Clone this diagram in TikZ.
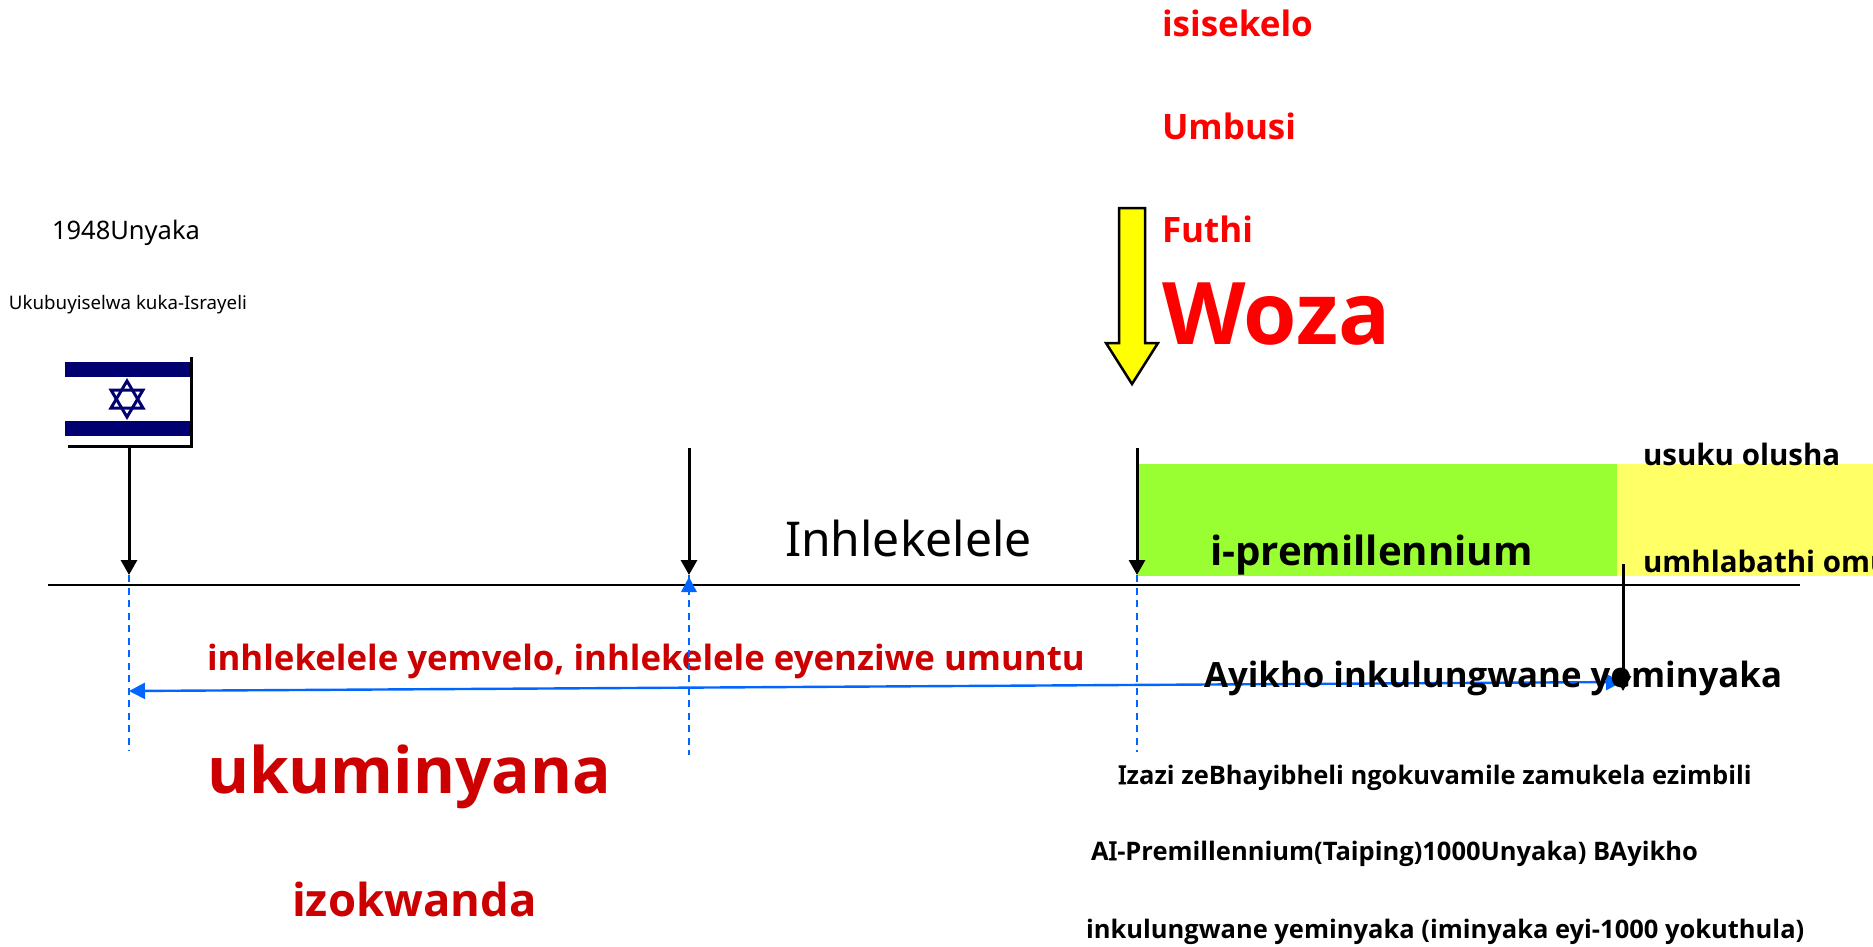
\documentclass[tikz,border=0pt]{standalone}
\usepackage{fontspec}
\setmainfont{Noto Sans}
\newfontfamily\boldfam{Open Sans}
\newfontfamily\serfam{Noto Sans}[FakeBold=3.5]
\newcommand{\serI}{{\serfam\mdseries I}}
\usetikzlibrary{arrows.meta}
\definecolor{redtxt}{HTML}{FF0000}
\definecolor{darkred}{HTML}{CC0000}
\definecolor{bluel}{HTML}{0066FF}
\definecolor{navyf}{HTML}{000070}
\definecolor{greenb}{HTML}{99FF33}
\definecolor{yellowb}{HTML}{FFFF66}
\definecolor{yellowa}{HTML}{FFFF00}
\tikzset{
  lab/.style={anchor=base west,inner sep=0pt,outer sep=0pt},
  blackarrow/.style={draw=black,line width=3pt,-{Triangle[length=15pt,width=16pt]}},
  bluedash/.style={draw=bluel,line width=2.4pt,dash pattern=on 7pt off 5.5pt},
  fs/.style={font=\fontsize{#1}{#1}\selectfont},
  fb/.style={font=\fontsize{#1}{#1}\selectfont\boldfam\bfseries},
}
\begin{document}
\begin{tikzpicture}[x=1pt,y=-1pt]
\useasboundingbox (0,0) rectangle (1873,946);
% bands
\fill[greenb] (1138,464) rectangle (1617,576);
\fill[yellowb] (1617,464) rectangle (1873,576);
% labels
\node[lab,fb=35,text=redtxt] (t1) at (1162,36) {isisekelo};
\node[lab,fb=35,text=redtxt] (t2) at (1162,139) {Umbusi};
\node[lab,fb=35,text=redtxt] (t3) at (1162,242) {Futhi};
\node[lab,fb=86.4,text=redtxt] (t4) at (1162,344) {Woza};
\node[lab,fs=25.5] (t5) at (52,239) {1948Unyaka};
\node[lab,fs=18.7] (t6) at (9,309) {Ukubuyiselwa kuka-Israyeli};
\node[lab,fs=48] (t7) at (785,556) {Inhlekelele};
\node[lab,fb=40.2] (t8) at (1210,565) {i-premillennium};
\node[lab,fb=29.5] (t9) at (1643,465) {usuku olusha};
\node[lab,fb=29.5] (t10) at (1643,572) {umhlabathi omusha};
\node[lab,fb=34.8,text=darkred] (t11) at (207,670) {inhlekelele yemvelo, inhlekelele eyenziwe umuntu};
\node[lab,fb=64,text=darkred] (t12) at (207,793) {ukuminyana};
\node[lab,fb=45.4,text=darkred] (t13) at (292,916) {izokwanda};
\node[lab,fb=25.5] (t15) at (1118,784) {\serI zazi zeBhayibheli ngokuvamile zamukela ezimbili};
\node[lab,fb=25.5] (t16) at (1091,860) {A\serI-Premillennium(Taiping)1000Unyaka) BAyikho};
\node[lab,fb=25.5] (t17) at (1086,938) {inkulungwane yeminyaka (iminyaka eyi-1000 yokuthula)};
% flag
\fill[navyf] (65,362) rectangle (190,377);
\fill[navyf] (65,421) rectangle (190,436);
\draw[navyf,line width=3pt,line join=miter] (127,381) -- (143,408) -- (111,408) -- cycle;
\draw[navyf,line width=3pt,line join=miter] (127,417) -- (143,390) -- (111,390) -- cycle;
\draw[black,line width=3pt] (68,446.5) -- (191.5,446.5) -- (191.5,357);
% coordinates
\coordinate (a1) at (129,448); \coordinate (a1e) at (129,575);
\coordinate (a2) at (689,448); \coordinate (a2e) at (689,575);
\coordinate (a3) at (1137,448); \coordinate (a3e) at (1137,575);
\coordinate (d1) at (129,751); \coordinate (d2) at (689,755); \coordinate (d3) at (1137,752);
\coordinate (axl) at (48,585); \coordinate (axr) at (1800,585);
\coordinate (bl) at (129,691); \coordinate (br) at (1622,682);
\coordinate (v4) at (1623,564); \coordinate (v4e) at (1623,691);
% dashed
\draw[bluedash] (a1e) -- (d1);
\draw[bluedash] (a2e) -- (d2);
\draw[bluedash] (a3e) -- (d3);
% axis
\draw[black,line width=2.2pt] (axl) -- (axr);
% blue triangle on axis
\fill[bluel] (689,577) -- (697,592) -- (681,592) -- cycle;
% black arrows
\draw[blackarrow] (a1) -- (a1e);
\draw[blackarrow] (a2) -- (a2e);
\draw[blackarrow] (a3) -- (a3e);
% blue span
\draw[draw=bluel,line width=2.4pt,{Triangle[length=16pt,width=16pt]}-{Triangle[length=16pt,width=16pt]}] (bl) -- (br);
\node[lab,fb=34.8] (t14) at (1204,687) {Ayikho inkulungwane yeminyaka};
\draw[blackarrow] (v4) -- (v4e);
\fill[black] (1623,677) circle (7);
% big yellow arrow
\draw[draw=black,fill=yellowa,line width=2.5pt,line join=miter] (1119,208) -- (1145,208) -- (1145,343) -- (1158,343) -- (1132,384) -- (1106,343) -- (1119,343) -- cycle;
\end{tikzpicture}
\end{document}
